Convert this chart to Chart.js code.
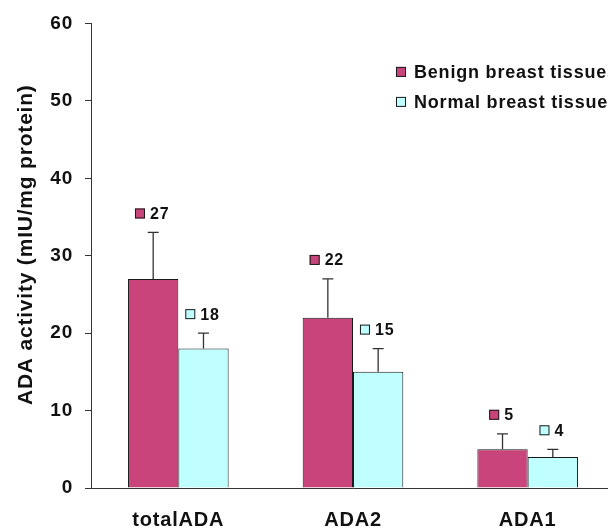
<!DOCTYPE html>
<html>
<head>
<meta charset="utf-8">
<title>ADA activity</title>
<script src="https://cdn.jsdelivr.net/npm/chart.js@4/dist/chart.umd.min.js"></script>
<style>
  html, body { margin: 0; padding: 0; background: #fff; overflow: hidden; }
  #wrap { position: relative; width: 620px; height: 529px; }
</style>
</head>
<body>
<div id="wrap"><canvas id="chart"></canvas></div>
<script>
// ADA activity per tissue type (mean and SD)
const categories = ['totalADA', 'ADA2', 'ADA1'];
const benignValues = [27, 22, 5];
const benignErrors = [6, 5, 2];
const normalValues = [18, 15, 4];
const normalErrors = [2, 3, 1];
const seriesNames = ['Benign breast tissues', 'Normal breast tissues'];
const yTitle = 'ADA activity (mIU/mg protein)';
const yMin = 0, yMax = 60, yStep = 10;

const FONT = "'Liberation Sans', Arial, Helvetica, sans-serif";
const INK = '#1a1a1a';
const BENIGN = '#C8447A';
const NORMAL = '#BFFFFF';

// wider tracking for all canvas text
const spacing = {
  id: 'spacing',
  beforeUpdate(chart) { chart.ctx.letterSpacing = '0.8px'; },
  beforeDraw(chart) { chart.ctx.letterSpacing = '0.8px'; }
};

// rotated y-axis title, sitting a little above the middle of the axis
const axisTitle = {
  id: 'axisTitle',
  afterDraw(chart) {
    const ctx = chart.ctx;
    const area = chart.chartArea;
    ctx.save();
    ctx.letterSpacing = '0.8px';
    ctx.font = 'bold 21px ' + FONT;
    ctx.fillStyle = '#111';
    ctx.textAlign = 'center';
    ctx.textBaseline = 'middle';
    ctx.translate(area.left - 65, (area.top + area.bottom) / 2 - 11);
    ctx.rotate(-Math.PI / 2);
    ctx.fillText(yTitle, 0, 0);
    ctx.restore();
  }
};

// upward error bars with caps, plus a value tag (swatch + number) above each
const errorBarsAndTags = {
  id: 'errorBarsAndTags',
  afterDatasetsDraw(chart) {
    const ctx = chart.ctx;
    const y = chart.scales.y;
    chart.data.datasets.forEach((ds, di) => {
      const meta = chart.getDatasetMeta(di);
      meta.data.forEach((bar, i) => {
        const v = ds.data[i];
        const top = y.getPixelForValue(v + ds.errors[i]);
        ctx.save();
        ctx.strokeStyle = '#333';
        ctx.lineWidth = 1.3;
        ctx.beginPath();
        ctx.moveTo(bar.x, bar.y);
        ctx.lineTo(bar.x, top);
        ctx.moveTo(bar.x - 5.5, top);
        ctx.lineTo(bar.x + 5.5, top);
        ctx.stroke();

        // tag
        const label = String(v);
        ctx.font = 'bold 16px ' + FONT;
        ctx.letterSpacing = '0.8px';
        const tw = ctx.measureText(label).width;
        const sw = 10, gap = 5;
        const total = sw + gap + tw;
        const cy = top - 19;
        const x0 = bar.x - total / 2 - 1;
        ctx.fillStyle = ds.backgroundColor;
        ctx.fillRect(x0, cy - sw / 2, sw, sw);
        ctx.lineWidth = 1;
        ctx.strokeStyle = INK;
        ctx.strokeRect(x0 + 0.5, cy - sw / 2 + 0.5, sw - 1, sw - 1);
        ctx.fillStyle = '#111';
        ctx.textBaseline = 'middle';
        ctx.textAlign = 'left';
        ctx.fillText(label, x0 + sw + gap, cy + 1);
        ctx.restore();
      });
    });
  }
};

// legend in the upper right of the plot area
const boxLegend = {
  id: 'boxLegend',
  afterDraw(chart) {
    const ctx = chart.ctx;
    const area = chart.chartArea;
    const x = area.left + 305;
    let cy = area.top + 48.5;
    ctx.save();
    ctx.font = 'bold 18px ' + FONT;
    ctx.letterSpacing = '0.8px';
    ctx.textBaseline = 'middle';
    ctx.textAlign = 'left';
    chart.data.datasets.forEach(ds => {
      ctx.fillStyle = ds.backgroundColor;
      ctx.fillRect(x, cy - 5, 10, 10);
      ctx.strokeStyle = INK;
      ctx.lineWidth = 1;
      ctx.strokeRect(x + 0.5, cy - 4.5, 9, 9);
      ctx.fillStyle = '#111';
      ctx.fillText(ds.label, x + 18, cy + 1);
      cy += 30;
    });
    ctx.restore();
  }
};

new Chart(document.getElementById('chart'), {
  type: 'bar',
  data: {
    labels: categories,
    datasets: [
      { label: seriesNames[0], data: benignValues, errors: benignErrors,
        backgroundColor: BENIGN, borderColor: INK, borderWidth: 1,
        categoryPercentage: 0.576, barPercentage: 1.0 },
      { label: seriesNames[1], data: normalValues, errors: normalErrors,
        backgroundColor: NORMAL, borderColor: INK, borderWidth: 1,
        categoryPercentage: 0.576, barPercentage: 1.0 }
    ]
  },
  options: {
    responsive: true,
    maintainAspectRatio: false,
    animation: false,
    layout: { padding: { top: 21, right: 5, bottom: 0, left: 0 } },
    plugins: { legend: { display: false }, tooltip: { enabled: false } },
    scales: {
      x: {
        grid: { display: false, drawTicks: false },
        border: { display: true, color: '#333', width: 1 },
        ticks: { color: '#111', padding: 20, font: { family: FONT, size: 20, weight: 'bold' } },
        afterFit(scale) { scale.height = 41; }
      },
      y: {
        min: yMin, max: yMax,
        grid: { display: true, drawOnChartArea: false, drawTicks: true, tickLength: 6, color: '#333' },
        border: { display: true, color: '#333', width: 1 },
        ticks: { stepSize: yStep, color: '#111', padding: 12, font: { family: FONT, size: 19, weight: 'bold' } },
        afterFit(scale) { scale.width = 91; }
      }
    }
  },
  plugins: [spacing, errorBarsAndTags, boxLegend, axisTitle]
});
</script>
</body>
</html>
